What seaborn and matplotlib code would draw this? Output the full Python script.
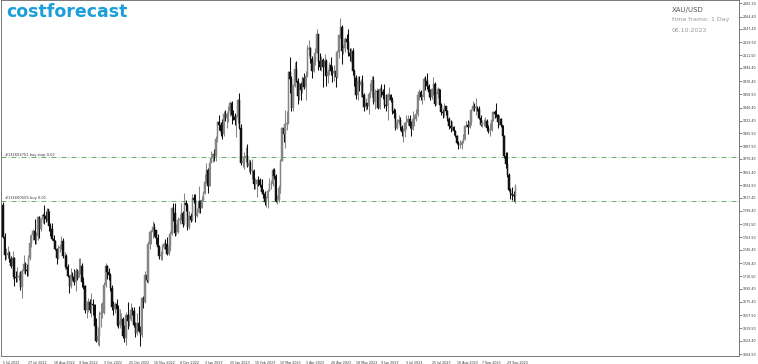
import numpy as np
import pandas as pd
import matplotlib
matplotlib.use("Agg")
import matplotlib.pyplot as plt
import seaborn as sns

# ---------------- data ----------------
first_open = 1808.0
closes = [
    # Jul 2022
    1764, 1739, 1740, 1742, 1734, 1725, 1735, 1710, 1708, 1709, 1711, 1696, 1718, 1727, 1719, 1717, 1735, 1756, 1766,
    # Aug 2022
    1772, 1760, 1765, 1791, 1775, 1789, 1794, 1792, 1789, 1802, 1779, 1775, 1761, 1758, 1747, 1736, 1749, 1751, 1758, 1738, 1738, 1723, 1711,
    # Sep 2022
    1697, 1712, 1710, 1702, 1718, 1708, 1717, 1725, 1702, 1697, 1665, 1675, 1676, 1664, 1673, 1671, 1643, 1622, 1629, 1659, 1660, 1661,
    # Oct 2022
    1699, 1725, 1716, 1712, 1695, 1668, 1666, 1673, 1666, 1644, 1650, 1652, 1629, 1627, 1657, 1649, 1652, 1665, 1663, 1644, 1633,
    # Nov 2022
    1647, 1636, 1630, 1681, 1676, 1712, 1706, 1755, 1771, 1771, 1777, 1774, 1762, 1751, 1738, 1740, 1750, 1755, 1754, 1741, 1750, 1768,
    # Dec 2022
    1803, 1797, 1769, 1771, 1787, 1789, 1797, 1781, 1810, 1807, 1777, 1793, 1787, 1817, 1814, 1792, 1798, 1813, 1804, 1815, 1824,
    # Jan 2023
    1839, 1855, 1833, 1865, 1872, 1877, 1875, 1897, 1920, 1916, 1908, 1904, 1932, 1926, 1931, 1936, 1946, 1930, 1928, 1923, 1928,
    # Feb 2023
    1951, 1912, 1865, 1867, 1873, 1874, 1861, 1865, 1854, 1854, 1836, 1836, 1842, 1841, 1835, 1825, 1822, 1811, 1817, 1827,
    # Mar 2023
    1836, 1836, 1855, 1847, 1813, 1814, 1831, 1868, 1913, 1904, 1918, 1919, 1989, 1979, 1940, 1970, 1993, 1977, 1956, 1973, 1964, 1980, 1969,
    # Apr 2023
    1984, 2020, 2021, 2007, 1990, 2003, 2015, 2040, 2004, 1995, 2005, 1995, 2004, 1983, 1989, 1999, 1990, 1988, 1990,
    # May 2023
    1982, 2016, 2039, 2050, 2017, 2021, 2034, 2030, 2015, 2011, 2017, 1990, 1981, 1957, 1977, 1971, 1975, 1957, 1941, 1946, 1943, 1959, 1963,
    # Jun 2023
    1978, 1948, 1961, 1963, 1940, 1965, 1961, 1957, 1944, 1942, 1958, 1958, 1951, 1936, 1933, 1913, 1921, 1923, 1914, 1907, 1908, 1919,
    # Jul 2023
    1921, 1925, 1915, 1911, 1925, 1925, 1932, 1957, 1961, 1955, 1955, 1979, 1977, 1970, 1962, 1955, 1965, 1972, 1945, 1959, 1965,
    # Aug 2023
    1944, 1934, 1933, 1943, 1936, 1925, 1915, 1912, 1914, 1908, 1902, 1892, 1889, 1889, 1894, 1897, 1915, 1917, 1914, 1920, 1937, 1943, 1940,
    # Sep 2023
    1940, 1938, 1926, 1916, 1919, 1919, 1922, 1913, 1908, 1910, 1924, 1934, 1931, 1930, 1920, 1925, 1916, 1901, 1875, 1864, 1849,
    # Oct 2023
    1828, 1822, 1821, 1820, 1833,
]
highs = [
    1812, 1770, 1749, 1752, 1745, 1738, 1745, 1737, 1718, 1723, 1716, 1718, 1721, 1739, 1730, 1727, 1740, 1767, 1768,
    1775, 1789, 1771, 1793, 1792, 1790, 1796, 1807, 1800, 1803, 1800, 1783, 1783, 1766, 1760, 1749, 1753, 1755, 1765, 1763, 1744, 1741, 1727,
    1712, 1722, 1716, 1720, 1722, 1721, 1735, 1735, 1728, 1709, 1699, 1677, 1681, 1680, 1687, 1680, 1673, 1653, 1641, 1663, 1674, 1676,
    1702, 1729, 1726, 1722, 1715, 1698, 1677, 1676, 1680, 1671, 1666, 1660, 1655, 1644, 1662, 1675, 1659, 1674, 1669, 1668, 1648,
    1660, 1670, 1642, 1682, 1683, 1717, 1722, 1758, 1773, 1774, 1786, 1783, 1774, 1768, 1753, 1745, 1755, 1757, 1761, 1764, 1756, 1772,
    1805, 1810, 1810, 1782, 1791, 1795, 1810, 1799, 1824, 1814, 1810, 1799, 1797, 1822, 1823, 1823, 1804, 1833, 1815, 1820, 1826,
    1850, 1865, 1858, 1869, 1881, 1879, 1884, 1901, 1922, 1930, 1920, 1925, 1935, 1937, 1934, 1942, 1949, 1949, 1937, 1933, 1930,
    1952, 1960, 1918, 1874, 1880, 1886, 1890, 1870, 1869, 1870, 1857, 1845, 1843, 1847, 1845, 1843, 1829, 1826, 1820, 1829,
    1844, 1842, 1858, 1858, 1850, 1821, 1835, 1870, 1914, 1914, 1937, 1935, 1990, 2009, 1983, 1973, 2003, 2004, 1980, 1975, 1975, 1983, 1987,
    1990, 2025, 2032, 2023, 2010, 2007, 2022, 2048, 2041, 2015, 2011, 2008, 2013, 2006, 1993, 2003, 2009, 1997, 1998,
    1993, 2019, 2041, 2063, 2053, 2026, 2037, 2041, 2048, 2022, 2022, 2021, 1993, 1985, 1984, 1983, 1979, 1985, 1960, 1954, 1947, 1962, 1974,
    1983, 1984, 1965, 1967, 1966, 1968, 1972, 1966, 1972, 1959, 1960, 1968, 1959, 1955, 1940, 1938, 1925, 1930, 1927, 1917, 1913, 1921,
    1930, 1930, 1930, 1922, 1935, 1930, 1938, 1960, 1965, 1964, 1959, 1982, 1983, 1987, 1972, 1965, 1967, 1982, 1975, 1962, 1968,
    1966, 1947, 1938, 1946, 1943, 1937, 1927, 1923, 1922, 1915, 1910, 1903, 1895, 1896, 1896, 1904, 1917, 1922, 1923, 1923, 1938, 1949, 1947,
    1953, 1943, 1942, 1930, 1923, 1925, 1927, 1925, 1917, 1919, 1928, 1936, 1937, 1947, 1932, 1930, 1926, 1917, 1903, 1880, 1880,
    1851, 1831, 1832, 1826, 1836,
]
lows = [
    1763, 1732, 1734, 1735, 1730, 1722, 1707, 1697, 1702, 1702, 1705, 1692, 1681, 1715, 1713, 1711, 1711, 1733, 1751,
    1760, 1755, 1754, 1760, 1763, 1772, 1783, 1782, 1784, 1786, 1772, 1765, 1760, 1753, 1746, 1727, 1734, 1743, 1748, 1735, 1720, 1721, 1709,
    1688, 1694, 1706, 1699, 1691, 1705, 1709, 1714, 1696, 1693, 1660, 1654, 1662, 1660, 1655, 1657, 1639, 1621, 1617, 1615, 1641, 1654,
    1659, 1696, 1707, 1706, 1690, 1665, 1658, 1660, 1642, 1640, 1640, 1644, 1627, 1621, 1617, 1639, 1643, 1649, 1657, 1641, 1628,
    1630, 1634, 1616, 1628, 1667, 1674, 1702, 1701, 1748, 1754, 1763, 1765, 1754, 1747, 1734, 1732, 1733, 1748, 1747, 1739, 1739, 1745,
    1767, 1786, 1765, 1767, 1769, 1781, 1787, 1778, 1780, 1800, 1773, 1775, 1784, 1786, 1810, 1785, 1791, 1797, 1796, 1803, 1813,
    1823, 1838, 1824, 1833, 1866, 1866, 1867, 1867, 1894, 1910, 1902, 1897, 1902, 1922, 1912, 1921, 1929, 1918, 1923, 1916, 1900,
    1919, 1911, 1862, 1860, 1856, 1866, 1860, 1853, 1850, 1843, 1830, 1829, 1818, 1833, 1832, 1823, 1817, 1808, 1805, 1804,
    1826, 1830, 1834, 1843, 1812, 1809, 1812, 1824, 1867, 1893, 1885, 1910, 1918, 1960, 1935, 1935, 1968, 1975, 1945, 1950, 1950, 1960, 1966,
    1950, 1982, 2010, 2001, 1981, 1989, 1999, 2014, 1992, 1991, 1990, 1969, 1992, 1970, 1974, 1985, 1985, 1975, 1976,
    1969, 1980, 2008, 2035, 2000, 2013, 2016, 2020, 2010, 2004, 2003, 1985, 1970, 1952, 1950, 1963, 1955, 1955, 1936, 1937, 1938, 1932, 1954,
    1955, 1945, 1938, 1952, 1939, 1939, 1955, 1952, 1940, 1936, 1924, 1950, 1948, 1932, 1926, 1910, 1911, 1918, 1910, 1902, 1893, 1900,
    1911, 1917, 1913, 1902, 1910, 1915, 1922, 1929, 1951, 1950, 1945, 1951, 1964, 1966, 1955, 1950, 1952, 1958, 1942, 1944, 1954,
    1940, 1930, 1926, 1928, 1930, 1922, 1911, 1907, 1910, 1903, 1900, 1890, 1884, 1885, 1884, 1892, 1896, 1914, 1904, 1913, 1916, 1936, 1936,
    1930, 1936, 1925, 1915, 1914, 1915, 1915, 1909, 1906, 1901, 1909, 1922, 1926, 1927, 1913, 1917, 1914, 1899, 1872, 1858, 1846,
    1826, 1816, 1815, 1813, 1810,
]
opens = [first_open] + closes[:-1]

skip_days = ["2022-12-26", "2023-01-02", "2023-04-07"]
dates = pd.bdate_range("2022-07-05", "2023-10-06")
dates = dates[~dates.isin(pd.to_datetime(skip_days))]

y_ticks = [2082.30, 2064.40, 2047.40, 2029.50, 2011.50, 1994.40, 1976.40, 1958.50, 1940.40,
           1922.40, 1905.50, 1887.50, 1870.40, 1852.40, 1834.50, 1817.40, 1799.40, 1781.50,
           1763.50, 1746.40, 1728.40, 1710.50, 1693.40, 1675.40, 1657.50, 1639.50, 1622.40, 1604.50]

order_levels = [1872.6, 1812.8]
order_labels = ["#131602751 buy stop 0.02", "#131600505 buy 0.01"]

symbol = "XAU/USD"
timeframe = "time frame: 1 Day"
date_text = "06.10.2023"

df = pd.DataFrame({"date": dates[:len(closes)], "open": opens, "high": highs,
                   "low": lows, "close": closes})
df["idx"] = np.arange(len(df))
df["up"] = df["close"] >= df["open"]

# ---------------- plot ----------------
sns.set_style("white")
plt.rcParams["font.family"] = ["DejaVu Sans"]

W, H = 758, 364
fig = plt.figure(figsize=(W / 100, H / 100), dpi=100)
ax = fig.add_axes([0.0015, 1 - 356 / H, 739 / W - 0.0015, 356 / H - 0.001])

up_col = "#858585"
dn_col = "#111111"
colors = np.where(df["up"], up_col, dn_col)

ax.vlines(df["idx"], df["low"], df["high"], colors=colors, linewidth=0.75, zorder=2)
body_bottom = np.minimum(df["open"], df["close"])
body_h = np.maximum(np.abs(df["close"] - df["open"]), 0.6)
ax.bar(df["idx"], body_h, bottom=body_bottom, width=0.85, color=colors,
       edgecolor=colors, linewidth=0.35, zorder=3)

for lvl, lab in zip(order_levels, order_labels):
    ax.axhline(lvl, color="#4fa04f", linewidth=0.6, linestyle=(0, (6, 2.5, 1, 2.5)), zorder=1)
    ax.text(1.5, lvl + 1.0, lab, fontsize=2.6, color="#333333", va="bottom", ha="left")

px = 1.578
ax.set_xlim(-2 / px, (739 - 2) / px)
ax.set_ylim(1601.8, 2086.4)

xt = np.arange(0, len(df), 16)
ax.set_xticks(xt)
ax.set_xticklabels([f"{d.day} {d.strftime('%b %Y')}" for d in df["date"].iloc[xt]],
                   fontsize=2.3, color="#333333", ha="left")
ax.tick_params(axis="x", direction="out", length=2.5, width=0.5, pad=1, color="#555555")

ax.yaxis.tick_right()
ax.set_yticks(y_ticks)
ax.set_yticklabels([f"{v:.2f}" for v in y_ticks], fontsize=2.35, color="#333333")
ax.tick_params(axis="y", direction="out", length=2, width=0.5, pad=0.8, color="#555555")

for s in ax.spines.values():
    s.set_color("#777777")
    s.set_linewidth(0.7)

fig.text(6 / W, 1 - 12 / H, "costforecast", fontsize=12.5, fontweight="bold",
         color="#1a9fdb", va="center", ha="left")
fig.text(672 / W, 1 - 10 / H, symbol, fontsize=5, color="#555555", va="center", ha="left")
fig.text(672 / W, 1 - 20 / H, timeframe, fontsize=4.5, color="#999999", va="center", ha="left")
fig.text(672 / W, 1 - 30 / H, date_text, fontsize=4.5, color="#999999", va="center", ha="left")

fig.savefig("out.png", dpi=100)
